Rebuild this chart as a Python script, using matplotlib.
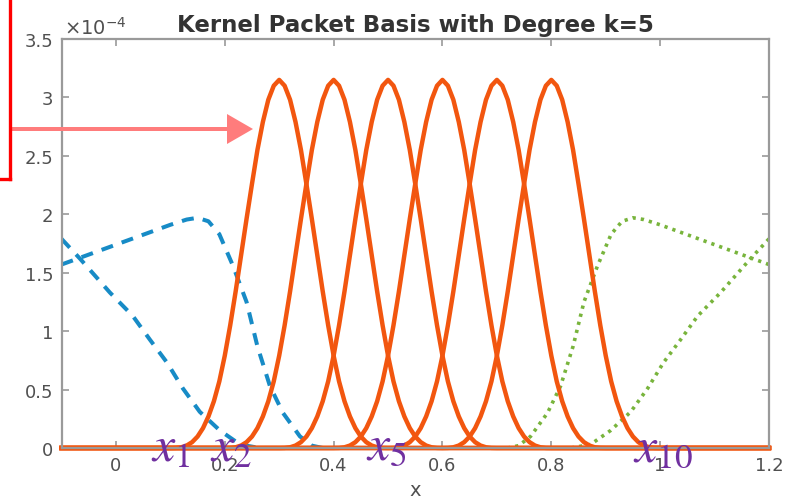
import numpy as np
import matplotlib
matplotlib.use("Agg")
import matplotlib.pyplot as plt
from matplotlib.lines import Line2D
from matplotlib.patches import FancyArrow
from matplotlib.transforms import IdentityTransform

plt.rcParams['font.family'] = ['DejaVu Sans']
plt.rcParams['mathtext.fontset'] = 'stix'

# ---- data (y in units of 1e-4) ----
x_min, x_max = -0.1, 1.2

# interior kernel packets: same shape, shifted to each center
kp_centers = [0.3, 0.4, 0.5, 0.6, 0.7, 0.8]
kp_offsets = [-0.20, -0.19, -0.18, -0.17, -0.16, -0.15, -0.14, -0.13, -0.12, -0.11,
              -0.10, -0.09, -0.08, -0.07, -0.06, -0.05, -0.04, -0.03, -0.02, -0.01,
              0.00,
              0.01, 0.02, 0.03, 0.04, 0.05, 0.06, 0.07, 0.08, 0.09, 0.10,
              0.11, 0.12, 0.13, 0.14, 0.15, 0.16, 0.17, 0.18, 0.19, 0.20]
kp_values = [0.0, 0.001, 0.006, 0.021, 0.05, 0.098, 0.17, 0.27, 0.40, 0.57,
             0.79, 1.05, 1.34, 1.65, 1.96, 2.26, 2.55, 2.79, 2.98, 3.10,
             3.15,
             3.10, 2.98, 2.79, 2.55, 2.26, 1.96, 1.65, 1.34, 1.05, 0.79,
             0.57, 0.40, 0.27, 0.17, 0.098, 0.05, 0.021, 0.006, 0.001, 0.0]

# left boundary packets (dashed)
left_a_x = [-0.1, -0.05, 0.0, 0.05, 0.10, 0.13, 0.15, 0.17, 0.19, 0.215, 0.24, 0.26,
            0.283, 0.307, 0.338, 0.36, 0.38, 0.55]
left_a_y = [1.57, 1.655, 1.74, 1.825, 1.91, 1.955, 1.97, 1.94, 1.83, 1.56, 1.25, 0.87,
            0.53, 0.30, 0.10, 0.02, 0.0, 0.0]
left_b_x = [-0.1, -0.066, -0.011, 0.031, 0.062, 0.094, 0.123, 0.154, 0.191, 0.228,
            0.264, 0.45]
left_b_y = [1.79, 1.62, 1.33, 1.13, 0.93, 0.73, 0.51, 0.31, 0.15, 0.03, 0.0, 0.0]

# right boundary packets (dotted)
right_a_x = [1.2, 1.15, 1.1, 1.05, 1.00, 0.97, 0.95, 0.93, 0.91, 0.885, 0.86, 0.84,
             0.817, 0.793, 0.762, 0.74, 0.72, 0.55]
right_a_y = [1.57, 1.655, 1.74, 1.825, 1.91, 1.955, 1.97, 1.94, 1.83, 1.56, 1.25, 0.87,
             0.53, 0.30, 0.10, 0.02, 0.0, 0.0]
right_b_x = [1.2, 1.166, 1.111, 1.069, 1.038, 1.006, 0.977, 0.946, 0.909, 0.872,
             0.836, 0.65]
right_b_y = [1.79, 1.62, 1.33, 1.13, 0.93, 0.73, 0.51, 0.31, 0.15, 0.03, 0.0, 0.0]

knot_labels = ['$x_1$', '$x_2$', '$x_5$', '$x_{10}$']
knot_label_px = [(151, 461), (210, 461), (366, 459), (633, 461)]

title = 'Kernel Packet Basis with Degree k=5'

orange = '#F2560F'
blue = '#178BC6'
green = '#78B43C'
purple = '#7030A0'
axis_gray = '#9a9a9a'
text_gray = '#505050'

W, H = 786, 502
fig = plt.figure(figsize=(W / 100, H / 100), dpi=100)
ax = fig.add_axes([61.5 / W, 1 - 449 / H, (769 - 61.5) / W, (449 - 40) / H])

ax.plot(left_a_x, left_a_y, color=blue, lw=2.9, dashes=(3.0, 2.3))
ax.plot(left_b_x, left_b_y, color=blue, lw=2.9, dashes=(3.0, 2.3))
ax.plot(right_a_x, right_a_y, color=green, lw=2.6, dashes=(0.9, 1.4))
ax.plot(right_b_x, right_b_y, color=green, lw=2.6, dashes=(0.9, 1.4))

for c in kp_centers:
    xs = [x_min] + [c + o for o in kp_offsets] + [x_max]
    ys = [0.0] + kp_values + [0.0]
    ax.plot(xs, ys, color=orange, lw=3.2, solid_joinstyle='round', clip_on=False)

ax.set_xlim(x_min, x_max)
ax.set_ylim(0, 3.5)
ax.set_xticks([0, 0.2, 0.4, 0.6, 0.8, 1.0, 1.2])
ax.set_xticklabels(['0', '0.2', '0.4', '0.6', '0.8', '1', '1.2'])
ax.set_yticks([0, 0.5, 1, 1.5, 2, 2.5, 3, 3.5])
ax.set_yticklabels(['0', '0.5', '1', '1.5', '2', '2.5', '3', '3.5'])
ax.tick_params(direction='in', length=5, width=1.2, color=axis_gray,
               labelcolor=text_gray, labelsize=13, top=True, right=True, pad=6)
for s in ax.spines.values():
    s.set_color(axis_gray)
    s.set_linewidth(1.6)

ax.set_title(title, fontsize=16.5, fontweight='bold', color='#333333', pad=6)
ax.set_xlabel('x', fontsize=14, color=text_gray, labelpad=4)
ax.text(0.004, 1.004, r'$\times10^{-4}$', transform=ax.transAxes, fontsize=14,
        color=text_gray, ha='left', va='bottom', math_fontfamily='dejavusans')

# knot labels
for lab, (px, py) in zip(knot_labels, knot_label_px):
    fig.text(px / W, 1 - py / H, lab, color=purple, fontsize=36,
             ha='left', va='baseline')

# red frame and arrow on the left
idt = IdentityTransform()
fig.add_artist(Line2D([10, 10], [H, H - 180], color='red', lw=2.4, transform=idt))
fig.add_artist(Line2D([0, 10], [H - 180, H - 180], color='red', lw=2.4, transform=idt))
fig.add_artist(FancyArrow(10, H - 130, 243, 0, width=4, head_width=30, head_length=26,
                          length_includes_head=True, color='#FF7C7C', lw=0,
                          transform=idt))

fig.savefig('out.png', dpi=100)
